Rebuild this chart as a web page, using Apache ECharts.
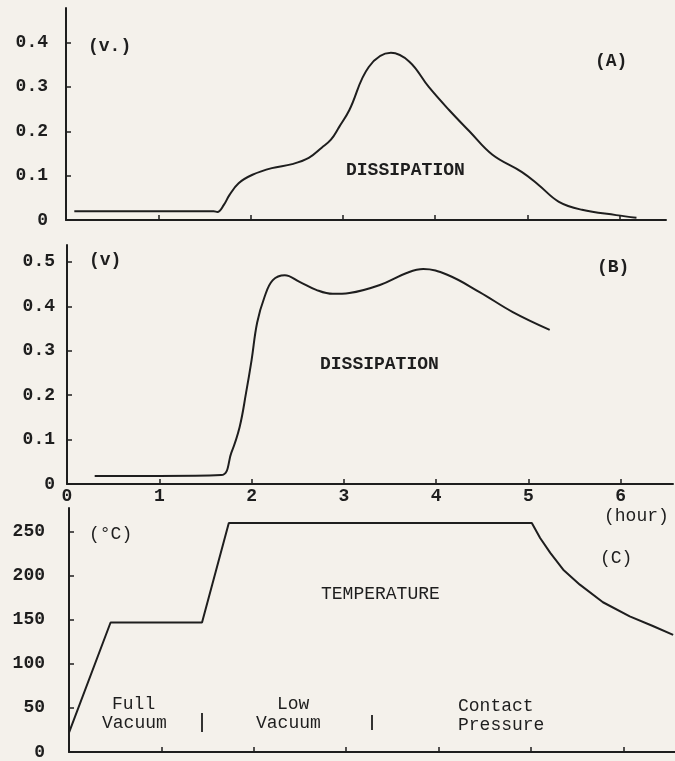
<!DOCTYPE html>
<html>
<head>
<meta charset="utf-8">
<script src="https://cdn.jsdelivr.net/npm/echarts@6/dist/echarts.min.js"></script>
<style>
html,body{margin:0;padding:0;background:#f4f1eb;}
#chart{width:675px;height:761px;}
</style>
</head>
<body>
<div id="chart"></div>
<script>
// Panel A: dissipation (v.) vs time (hour)
var hoursA = [0.09,0.5,1.0,1.6,1.64,1.71,1.77,1.87,2.02,2.23,2.45,2.63,2.77,2.87,2.96,3.07,3.28,3.52,3.72,3.93,4.15,4.37,4.62,4.94,5.12,5.34,5.59,5.96,6.18];
var voltsA = [0.02,0.02,0.02,0.02,0.018,0.034,0.056,0.083,0.102,0.117,0.126,0.14,0.163,0.181,0.21,0.248,0.345,0.377,0.357,0.30,0.248,0.20,0.147,0.108,0.079,0.041,0.023,0.011,0.005];
// Panel B: dissipation (v)
var hoursB = [0.3,1.0,1.67,1.78,1.87,1.94,2.0,2.06,2.14,2.23,2.36,2.52,2.7,2.88,3.06,3.39,3.68,3.86,4.12,4.47,4.83,5.23];
var voltsB = [0.018,0.018,0.02,0.07,0.128,0.205,0.279,0.363,0.421,0.459,0.47,0.455,0.437,0.428,0.43,0.448,0.475,0.484,0.471,0.432,0.387,0.347];
// Panel C: temperature (°C)
var hoursC = [0,0.45,1.44,1.73,5.01,5.10,5.21,5.35,5.53,5.78,6.07,6.32,6.54];
var tempC = [22,147,147,260,260,243,226,207,190,170,154,143,133];
// tick labels
var ticksA = [0,0.1,0.2,0.3,0.4];
var ticksB = [0,0.1,0.2,0.3,0.4,0.5];
var ticksC = [0,50,100,150,200,250];
var hourTicks = [1,2,3,4,5,6];
var hourLabels = [0,1,2,3,4,5,6];

function zip(a,b){return a.map(function(v,i){return [v,b[i]];});}

var FONT = 'Liberation Mono';
var INK = '#1e1e1e';

function xAx(gi, max, showLabels){
  return {
    type:'value', gridIndex:gi, min:0, max:max,
    axisLine:{show:true,onZero:false,lineStyle:{color:INK,width:2}},
    axisTick:{show:true,inside:true,length:5,customValues:hourTicks,lineStyle:{color:INK,width:1.5}},
    axisLabel:{show:showLabels,customValues:hourLabels,color:INK,fontFamily:FONT,fontWeight:'bold',fontSize:18,margin:3},
    splitLine:{show:false}
  };
}
function yAx(gi, max, ticks, margin, fmt){
  return {
    type:'value', gridIndex:gi, min:0, max:max,
    axisLine:{show:true,onZero:false,lineStyle:{color:INK,width:2}},
    axisTick:{show:true,inside:true,length:5,customValues:ticks,lineStyle:{color:INK,width:1.5}},
    axisLabel:{customValues:ticks,color:INK,fontFamily:FONT,fontWeight:'bold',fontSize:18,margin:margin,formatter:fmt},
    splitLine:{show:false}
  };
}
var fmtV = function(v){return v===0?'0':v.toFixed(1);};
var fmtT = function(v){return String(v);};

var chart = echarts.init(document.getElementById('chart'));
function txt(x,y,s,opt){
  opt = opt||{};
  return {type:'text',left:x,top:y,style:{text:s,fill:INK,font:(opt.weight||'normal')+' '+(opt.size||18)+'px "'+FONT+'"',lineHeight:opt.lh||19}};
}
function bar(x,y1,y2){
  return {type:'line',shape:{x1:x,y1:y1,x2:x,y2:y2},style:{stroke:INK,lineWidth:1.8}};
}
chart.setOption({
  backgroundColor:'#f4f1eb',
  animation:false,
  grid:[
    {left:66,top:8,width:600,height:212},
    {left:67,top:245,width:606,height:239},
    {left:69,top:508,width:606,height:247}
  ],
  xAxis:[xAx(0,6.5,false), xAx(1,6.566,true), xAx(2,6.56,false)],
  yAxis:[yAx(0,0.478,ticksA,18,fmtV), yAx(1,0.538,ticksB,12,fmtV), yAx(2,277,ticksC,24,fmtT)],
  series:[
    {type:'line',xAxisIndex:0,yAxisIndex:0,data:zip(hoursA,voltsA),smooth:0.4,showSymbol:false,lineStyle:{color:INK,width:2}},
    {type:'line',xAxisIndex:1,yAxisIndex:1,data:zip(hoursB,voltsB),smooth:0.4,showSymbol:false,lineStyle:{color:INK,width:2}},
    {type:'line',xAxisIndex:2,yAxisIndex:2,data:zip(hoursC,tempC),smooth:false,showSymbol:false,lineStyle:{color:INK,width:2}}
  ],
  graphic:[
    txt(88,37,'(v.)',{weight:'bold'}),
    txt(595,52,'(A)',{weight:'bold'}),
    txt(346,161,'DISSIPATION',{weight:'bold'}),
    txt(89,251,'(v)',{weight:'bold'}),
    txt(597,258,'(B)',{weight:'bold'}),
    txt(320,355,'DISSIPATION',{weight:'bold'}),
    txt(604,507,'(hour)'),
    txt(89,525,'(°C)'),
    txt(600,549,'(C)'),
    txt(321,585,'TEMPERATURE'),
    txt(112,695,'Full'),
    txt(102,714,'Vacuum'),
    bar(202,713,732),
    txt(277,695,'Low'),
    txt(256,714,'Vacuum'),
    bar(372,715,730),
    txt(458,697,'Contact'),
    txt(458,716,'Pressure')
  ]
});
</script>
</body>
</html>
